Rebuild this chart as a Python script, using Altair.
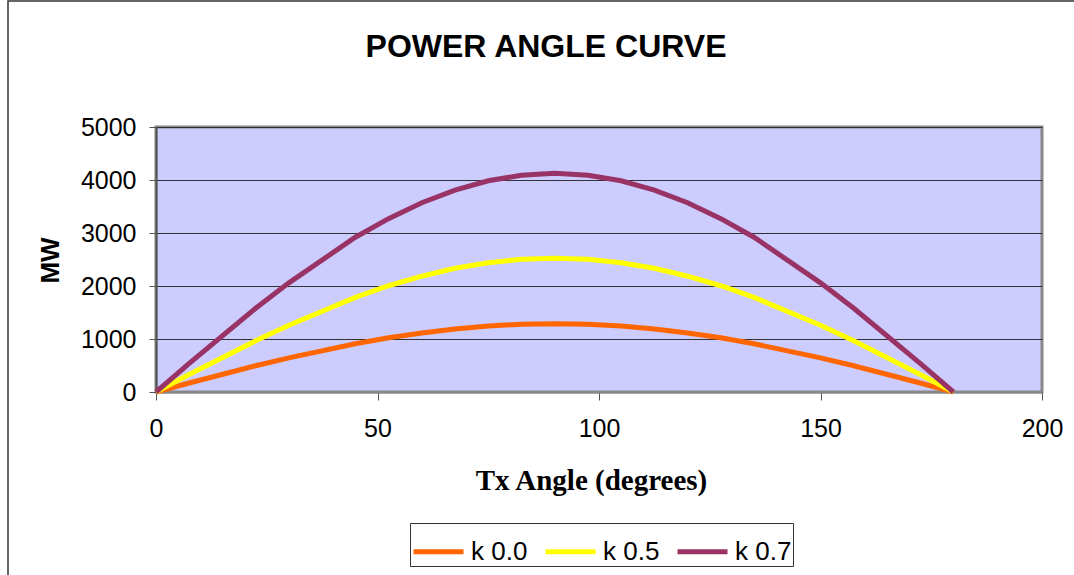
import altair as alt
import pandas as pd

angles = [0, 7.5, 22.5, 30, 45, 52.5, 60, 67.5, 75, 82.5, 90, 97.5, 105, 112.5, 120, 127.5, 135, 150, 157.5, 172.5, 180]
k00 = [0, 170, 495, 645, 910, 1025, 1115, 1190, 1245, 1280, 1290, 1280, 1245, 1190, 1115, 1025, 910, 645, 495, 170, 0]
k05 = [0, 330, 965, 1260, 1785, 2005, 2185, 2335, 2440, 2505, 2525, 2505, 2440, 2335, 2185, 2005, 1785, 1260, 965, 330, 0]
k07 = [0, 540, 1580, 2060, 2920, 3270, 3570, 3810, 3985, 4090, 4125, 4090, 3985, 3810, 3570, 3270, 2920, 2060, 1580, 540, 0]
series_names = ["k 0.0", "k 0.5", "k 0.7"]
series_colors = ["#FF6600", "#FFFF00", "#993366"]
title_text = "POWER ANGLE CURVE"

rows = []
for name, vals in zip(series_names, [k00, k05, k07]):
    for i, (a, v) in enumerate(zip(angles, vals)):
        rows.append({"angle": a, "MW": v, "series": name, "order": i})
df = pd.DataFrame(rows)

lines = alt.Chart(df).mark_line(strokeWidth=5, clip=False).encode(
    x=alt.X("angle:Q",
            scale=alt.Scale(domain=[0, 200], nice=False),
            axis=alt.Axis(values=[0, 50, 100, 150, 200], grid=False, format="d",
                          title="Tx Angle (degrees)",
                          titleFont="Liberation Serif", titleFontSize=29, titleFontWeight="bold",
                          titleColor="black",
                          titleX=435, titleY=88, titleBaseline="middle", titleAlign="center",
                          labelFont="Liberation Sans", labelFontSize=25, labelColor="black",
                          tickSize=8, tickColor="#555555", labelPadding=16,
                          domainColor="#888888", domainWidth=2, labelFlush=False)),
    y=alt.Y("MW:Q",
            scale=alt.Scale(domain=[0, 5000], nice=False),
            axis=alt.Axis(values=[0, 1000, 2000, 3000, 4000, 5000], grid=True, format="d",
                          gridColor="#333333", gridWidth=1,
                          title="MW", titleColor="black",
                          titleFont="Liberation Sans", titleFontSize=26, titleFontWeight="bold",
                          titleX=-106, titleY=133, titleAngle=270, titleBaseline="middle",
                          titleAlign="center",
                          labelFont="Liberation Sans", labelFontSize=25, labelColor="black",
                          tickSize=7, tickColor="#555555", labelPadding=13,
                          domainColor="#555555", domainWidth=2)),
    color=alt.Color("series:N",
                    scale=alt.Scale(domain=series_names, range=series_colors),
                    legend=alt.Legend(orient="none", legendX=254, legendY=396,
                                      direction="horizontal", title=None,
                                      symbolType="stroke", symbolSize=2500, symbolStrokeWidth=5,
                                      labelFont="Liberation Sans", labelFontSize=26,
                                      labelColor="black", labelOffset=5, columnPadding=7,
                                      strokeColor="#333333", padding=1)),
    order="order:Q",
)

frame = alt.Chart(alt.Data(values=[{}])).mark_rect(
    fill=None, stroke="#333333", strokeWidth=1.5, clip=False
).encode(
    x=alt.value(-148), x2=alt.value(1000), y=alt.value(-126), y2=alt.value(600)
)

title = alt.Chart(alt.Data(values=[{"t": title_text}])).mark_text(
    font="Liberation Sans", fontSize=32, fontWeight="bold", color="black",
    align="center", baseline="middle", clip=False
).encode(
    text="t:N", x=alt.value(390), y=alt.value(-80)
)

chart = alt.layer(frame, lines, title).properties(
    width=886, height=265,
    padding={"left": 156, "top": 127, "right": 32, "bottom": 183},
    autosize=alt.AutoSizeParams(type="none"),
    background="white",
).configure_view(
    fill="#CCCCFF", stroke="#888888", strokeWidth=3
)

chart.save("out.html", embed_options={"renderer": "svg", "actions": False})
